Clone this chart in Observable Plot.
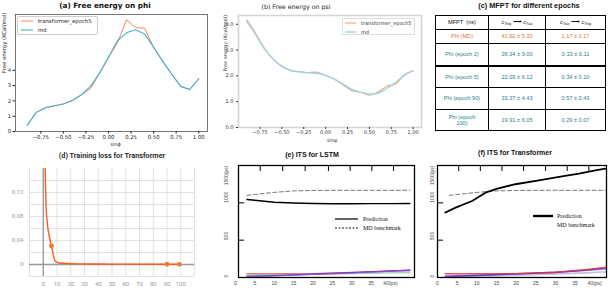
<!DOCTYPE html>
<html><head><meta charset="utf-8">
<script src="https://cdn.jsdelivr.net/npm/d3@7"></script>
<script src="https://cdn.jsdelivr.net/npm/@observablehq/plot@0.6"></script>
<style>
body{margin:0;background:#fff;}
#root{position:relative;width:608px;height:290px;overflow:hidden;font-family:"DejaVu Sans",sans-serif;background:#fff;}
#mfpt{position:absolute;left:435px;top:15px;width:170px;border-collapse:collapse;table-layout:fixed;font-family:"Liberation Sans",sans-serif;font-size:5.6px;}
#mfpt td{border:0.8px solid #000;text-align:center;padding:0;line-height:1.15;}
</style></head>
<body><div id="root"></div>
<script>
// ---------- (a) free energy on phi ----------
const phiX = [-0.9,-0.8,-0.7,-0.6,-0.5,-0.4,-0.3,-0.2,-0.1,0.0,0.1,0.2,0.3,0.4,0.5,0.6,0.7,0.8,0.9,1.0];
const phiMD = [0.40,1.25,1.55,1.68,1.80,2.02,2.40,2.95,3.80,4.85,5.95,6.45,6.65,6.38,5.50,4.60,3.75,2.95,2.75,3.45];
const phiTransformer = [0.40,1.25,1.55,1.68,1.80,2.02,2.40,2.80,3.80,4.85,5.80,7.30,6.80,6.75,5.50,4.60,3.75,2.95,2.75,3.45];
const phiTicksX = [-0.75,-0.5,-0.25,0,0.25,0.5,0.75,1.0];
const phiTicksY = [0,1,2,3,4];

// ---------- (b) free energy on psi ----------
const psiX = [-0.9,-0.8,-0.7,-0.6,-0.5,-0.4,-0.3,-0.2,-0.1,0.0,0.1,0.2,0.3,0.4,0.5,0.6,0.7,0.8,0.9,1.0];
const psiMD = [4.10,3.60,3.05,2.65,2.36,2.22,2.15,2.12,2.10,2.02,1.87,1.68,1.48,1.37,1.30,1.33,1.52,1.75,2.02,2.20];
const psiTransformer = [4.17,3.65,3.08,2.65,2.38,2.20,2.17,2.13,2.14,2.02,1.87,1.65,1.42,1.37,1.25,1.38,1.60,1.68,2.05,2.20];
const psiTicksY = [0,1,2,3,4];

// ---------- (c) MFPT table ----------
const mfptLabels = ["Phi (MD)","Phi (epoch 2)","Phi (epoch 5)","Phi (epoch 90)","Phi (epoch 100)"];
const mfptForward = ["41.92 ± 5.30","26.34 ± 9.00","22.09 ± 6.12","33.37 ± 4.43","19.91 ± 6.05"];
const mfptBackward = ["1.17 ± 0.17","0.33 ± 0.11","0.34 ± 0.10","0.57 ± 0.43","0.29 ± 0.07"];

// ---------- (d) training loss ----------
const lossEpoch = [1,2,3,4,5,6,7,8,9,10,12,15,20,30,50,70,90,100];
const lossValue = [0.20,0.10,0.068,0.052,0.040,0.031,0.019,0.009,0.005,0.0035,0.0025,0.002,0.0015,0.001,0.0007,0.0005,0.0004,0.0003];
const lossMarkEpoch = [6,90,99];
const lossMarkValue = [0.031,0.0004,0.0003];

// ---------- (e) ITS for LSTM ----------
const itsLag = [3,5,10,15,20,25,30,35,40,45];
const mdBenchmark = [1100,1112,1140,1160,1165,1168,1168,1168,1168,1168];
const lstmPrediction = [1045,1035,1008,998,992,988,988,990,990,991];
const minorLagE = [3,10,20,30,40,45];
const lstmRed = [50,50,52,70,90,100];
const lstmBlue = [15,25,45,65,85,95];
const lstmPurple = [10,20,40,60,85,100];
const lstmLight = [25,30,40,55,70,78];
const lstmGreen = [35,38,42,50,60,65];
const topTicksE = [6.4,12.2,18,24,29.6,35.2,40.8];

// ---------- (f) ITS for Transformer ----------
const tfLag = [2,4.6,8.8,12.2,15.2,19.8,25.8,30.9,36,40.2,42.7];
const tfPrediction = [870,935,1025,1136,1190,1249,1302,1347,1391,1436,1458];
const minorLagF = [2,10,20,30,38,43];
const tfRed = [50,50,52,70,110,140];
const tfBlue = [18,30,50,70,100,130];
const tfPurple = [12,25,45,65,95,115];
const tfLight = [8,20,35,50,65,80];
const tfPink = [5,15,30,45,60,75];
const topTicksF = [5.4,10.9,16.4,21.9,27.5,33,38.5];

const itsTicksX = [0,5,10,15,20,25,30,35,40];
const itsTicksY = [0,500,1000,1500];
const itsTickLabelsY = ["0","500","1000","1500(ps)"];

// ================= helpers =================
const root = document.getElementById("root");
function place(node, left, top){
  const d = document.createElement("div");
  d.style.cssText = `position:absolute;left:${left}px;top:${top}px;`;
  d.appendChild(node); root.appendChild(d); return d;
}
function title(text, x, y, css){
  const s = document.createElement("div");
  s.textContent = text;
  s.style.cssText = `position:absolute;left:${x}px;top:${y}px;transform:translate(-50%,-50%);white-space:nowrap;${css}`;
  root.appendChild(s);
}
function textAt(text, x, y, css){
  const s = document.createElement("div");
  s.innerHTML = text;
  s.style.cssText = `position:absolute;left:${x}px;top:${y}px;transform:translate(0,-50%);white-space:nowrap;${css}`;
  root.appendChild(s);
}
function swatch(x1, x2, y, stroke, sw, dash){
  const ns = "http://www.w3.org/2000/svg";
  const svg = document.createElementNS(ns,"svg");
  svg.setAttribute("width", x2-x1); svg.setAttribute("height", 6);
  svg.style.cssText = `position:absolute;left:${x1}px;top:${y-3}px;overflow:visible`;
  const l = document.createElementNS(ns,"line");
  l.setAttribute("x1",0); l.setAttribute("x2",x2-x1); l.setAttribute("y1",3); l.setAttribute("y2",3);
  l.setAttribute("stroke",stroke); l.setAttribute("stroke-width",sw);
  if (dash) l.setAttribute("stroke-dasharray",dash);
  svg.appendChild(l); root.appendChild(svg);
}
function box(x, y, w, h, css){
  const b = document.createElement("div");
  b.style.cssText = `position:absolute;left:${x}px;top:${y}px;width:${w}px;height:${h}px;box-sizing:border-box;${css}`;
  root.appendChild(b);
}
const baseStyle = (font, size, color) => ({fontFamily:font, fontSize:size, background:"transparent", overflow:"visible", color});

// ================= (a) =================
const aData = phiX.map((x,i)=>({x, md: phiMD[i], tr: phiTransformer[i]}));
place(Plot.plot({
  width:210, height:150, marginLeft:15, marginTop:14, marginRight:3, marginBottom:19,
  x:{domain:[-1.03,1.097]}, y:{domain:[0,7.65]},
  style: baseStyle("DejaVu Sans","5.3px","#222"),
  marks:[
    Plot.frame({stroke:"#555", strokeWidth:0.8}),
    Plot.axisX({ticks:phiTicksX, tickFormat:d3.format(".2f"), tickSize:2.5, tickPadding:1.2, label:null}),
    Plot.axisY({ticks:phiTicksY, tickSize:2.5, tickPadding:2, label:null}),
    Plot.text(["Free energy (KCal/mol)"], {text:d=>d, frameAnchor:"left", rotate:-90, dx:-11, fontSize:5.3}),
    Plot.text(["sinϕ"], {text:d=>d, frameAnchor:"bottom", dy:14, dx:4, fontSize:5}),
    Plot.line(aData, {x:"x", y:"tr", stroke:"#f4845f", strokeWidth:1}),
    Plot.line(aData, {x:"x", y:"md", stroke:"#45b3ca", strokeWidth:1.1})
  ]
}), 0, 0);
title("(a) Free energy on phi", 105, 5, "font:bold 7.3px 'DejaVu Sans';color:#111");
box(17,16,81,19,"border:0.7px solid #ccc;border-radius:2px;background:rgba(255,255,255,0.85)");
swatch(21,33,21,"#f4845f",1);
textAt("transformer_epoch5",38,21,"font:5.3px 'DejaVu Sans';color:#222");
swatch(21,33,30,"#45b3ca",1.1);
textAt("md",38,30,"font:5.3px 'DejaVu Sans';color:#222");

// ================= (b) =================
const bData = psiX.map((x,i)=>({x, md: psiMD[i], tr: psiTransformer[i]}));
place(Plot.plot({
  width:222, height:150, marginLeft:38, marginTop:15, marginRight:1, marginBottom:23,
  x:{domain:[-0.995,1.095]}, y:{domain:[0,4.34]},
  style: baseStyle("DejaVu Sans","5px","#333"),
  marks:[
    Plot.frame({stroke:"#d5d5d5", strokeWidth:1.6}),
    Plot.axisX({ticks:phiTicksX, tickFormat:d3.format(".2f"), tickSize:2, tickPadding:1, label:null}),
    Plot.axisY({ticks:psiTicksY, tickSize:2, tickPadding:3, label:null}),
    Plot.text(["Free energy (Kcal/mol)"], {text:d=>d, frameAnchor:"left", rotate:-90, dx:-13, fontSize:5}),
    Plot.text(["sinψ"], {text:d=>d, frameAnchor:"bottom", dy:14, dx:2, fontSize:5}),
    Plot.line(bData, {x:"x", y:"tr", stroke:"#f3a07c", strokeWidth:1.1, curve:"catmull-rom"}),
    Plot.line(bData, {x:"x", y:"md", stroke:"#9fd5e0", strokeWidth:1.4, curve:"catmull-rom"})
  ]
}), 200, 0);
title("(b) Free energy on psi", 296, 5.5, "font:6.3px 'DejaVu Sans';color:#222");
box(342,18,73,17,"border:0.7px solid #ddd;background:rgba(255,255,255,0.9)");
swatch(345,356,22.7,"#f3a07c",1.1);
textAt("transformer_epoch5",361,22.7,"font:5px 'DejaVu Sans';color:#333");
swatch(345,356,31.5,"#9fd5e0",1.4);
textAt("md",361,31.5,"font:5px 'DejaVu Sans';color:#333");

// ================= (c) =================
title("(c) MFPT for different epochs", 529, 5, "font:bold 7.3px 'Liberation Sans';color:#111");
const table = document.createElement("table");
table.id = "mfpt";
const colW = [53,57,60];
const cg = document.createElement("colgroup");
colW.forEach(w=>{const c=document.createElement("col"); c.style.width=w+"px"; cg.appendChild(c);});
table.appendChild(cg);
const rowH = [14,14,22,22,22,21];
function addRow(cells, h, color, extraCss){
  const tr = document.createElement("tr");
  tr.style.height = h+"px";
  cells.forEach(c=>{const td=document.createElement("td"); td.innerHTML=c; td.style.color=color; if(extraCss) td.style.cssText+=extraCss; tr.appendChild(td);});
  table.appendChild(tr);
}
addRow(["MFPT&nbsp;&nbsp;(ns)","<i>c</i><sub>7eq</sub> ⟶ <i>c</i><sub>7ax</sub>","<i>c</i><sub>7ax</sub> ⟶ <i>c</i><sub>7eq</sub>"], rowH[0], "#111");
mfptLabels.forEach((lab,i)=>{
  const color = i===0 ? "#e07a2e" : "#2b7f8e";
  const label = lab === "Phi (epoch 100)" ? "Phi (epoch<br>100)" : lab;
  addRow([label, mfptForward[i], mfptBackward[i]], rowH[i+1], color, i===2 ? "border-top:2px double #000;" : "");
});
root.appendChild(table);
table.querySelectorAll("sub").forEach(s=>{s.style.fontSize="4px"; s.style.verticalAlign="-1px";});

// ================= (d) =================
const dData = lossEpoch.map((e,i)=>({e, v: lossValue[i]}));
const dMarks = lossMarkEpoch.map((e,i)=>({e, v: lossMarkValue[i]}));
place(Plot.plot({
  width:210, height:150, marginLeft:29, marginTop:28, marginRight:16, marginBottom:14,
  x:{domain:[-10,110]}, y:{domain:[-0.02,0.16]},
  style: baseStyle("Roboto","6px","#999"),
  marks:[
    Plot.gridX({ticks:d3.range(-10,111,10), stroke:"#dcdcdc", strokeOpacity:1, strokeWidth:0.8}),
    Plot.gridY({ticks:d3.range(-2,15,2).map(d=>d/100), stroke:"#dcdcdc", strokeOpacity:1, strokeWidth:0.8}),
    Plot.ruleX([0], {stroke:"#999", strokeWidth:1.3}),
    Plot.ruleY([0], {stroke:"#999", strokeWidth:1.3}),
    Plot.axisX({ticks:d3.range(0,101,10), tickSize:0, tickPadding:5.5, label:null}),
    Plot.axisY({ticks:[0,0.04,0.08,0.12], tickFormat:d=>d===0?"0":d3.format(".2f")(d), tickSize:0, tickPadding:6, label:null}),
    Plot.line(dData, {x:"e", y:"v", stroke:"#ff5a1f", strokeWidth:1.4, curve:"monotone-x", clip:true}),
    Plot.dot(dMarks, {x:"e", y:"v", r:2.4, fill:"#f47b30", stroke:"none"})
  ]
}), 0, 140);
title("(d) Training loss for Transformer", 112, 155, "font:600 7.3px Roboto;color:#222");

// ================= (e) =================
function minorTable(lags, series){
  const out = [];
  series.forEach(([name, vals])=>vals.forEach((v,i)=>out.push({lag:lags[i], v, s:name})));
  return out;
}
const eMinor = minorTable(minorLagE, [["light",lstmLight],["green",lstmGreen],["red",lstmRed],["blue",lstmBlue],["purple",lstmPurple]]);
const minorColors = {light:"#b9c4ea", green:"#8fcf9a", red:"#ee3030", blue:"#3a3ad8", purple:"#9a4ad0", pink:"#e0a8d8"};
const eMain = itsLag.map((lag,i)=>({lag, md: mdBenchmark[i], pred: lstmPrediction[i]}));
const yLab = itsTicksY.map((v,i)=>({v, t: itsTickLabelsY[i]}));
place(Plot.plot({
  width:210, height:150, marginLeft:33, marginTop:25, marginRight:1, marginBottom:13,
  x:{domain:[0.8,46.2]}, y:{domain:[0,1500], axis:null},
  color:{domain:Object.keys(minorColors), range:Object.values(minorColors)},
  style: baseStyle("Liberation Sans","5px","#444"),
  marks:[
    Plot.line(eMinor, {x:"lag", y:"v", z:"s", stroke:"s", strokeWidth:1.2, strokeOpacity:0.85}),
    Plot.line(eMain, {x:"lag", y:"md", stroke:"#666", strokeWidth:0.9, strokeDasharray:"4,2.5"}),
    Plot.line(eMain, {x:"lag", y:"pred", stroke:"#000", strokeWidth:1.4}),
    Plot.frame({stroke:"#000", strokeWidth:1.3}),
    Plot.tickX(topTicksE, {x:d=>d, insetBottom:106, stroke:"#000", strokeWidth:1}),
    Plot.tickY([500,1000], {y:d=>d, insetRight:170, stroke:"#000", strokeWidth:1}),
    Plot.axisX({ticks:itsTicksX, tickFormat:d=>d===40?"40(ps)":String(d), tickSize:0, tickPadding:4, label:null}),
    Plot.text(yLab.slice(0,3), {y:"v", text:"t", frameAnchor:"left", rotate:-90, dx:-12, fontSize:5}),
    Plot.text(yLab.slice(3), {y:"v", text:"t", frameAnchor:"left", rotate:-90, dx:-12, fontSize:5, textAnchor:"end"})
  ]
}), 205, 140);
title("(e) ITS for LSTM", 312, 154, "font:bold 7px 'Liberation Sans';color:#111");
swatch(335,358,219,"#000",1.2);
textAt("Prediction",363,219,"font:6px 'Liberation Serif';color:#111");
swatch(335,358,228.3,"#000",0.9,"2,1.5");
textAt("MD benchmark",363,228.3,"font:6px 'Liberation Serif';color:#111");

// ================= (f) =================
const fMinor = minorTable(minorLagF, [["pink",tfPink],["light",tfLight],["purple",tfPurple],["blue",tfBlue],["red",tfRed]]);
const fPred = tfLag.map((lag,i)=>({lag, pred: tfPrediction[i]}));
place(Plot.plot({
  width:203, height:150, marginLeft:32, marginTop:25, marginRight:2, marginBottom:13,
  x:{domain:[0,43]}, y:{domain:[0,1500], axis:null},
  color:{domain:Object.keys(minorColors), range:Object.values(minorColors)},
  style: baseStyle("Liberation Sans","5px","#444"),
  marks:[
    Plot.line(fMinor, {x:"lag", y:"v", z:"s", stroke:"s", strokeWidth:1.3, strokeOpacity:0.85}),
    Plot.line(eMain, {x:"lag", y:"md", stroke:"#666", strokeWidth:0.9, strokeDasharray:"4,2.5", clip:true}),
    Plot.line(fPred, {x:"lag", y:"pred", stroke:"#000", strokeWidth:1.8}),
    Plot.frame({stroke:"#000", strokeWidth:1.3}),
    Plot.tickX(topTicksF, {x:d=>d, insetBottom:106, stroke:"#000", strokeWidth:1}),
    Plot.tickY([500,1000], {y:d=>d, insetRight:163, stroke:"#000", strokeWidth:1}),
    Plot.axisX({ticks:itsTicksX, tickFormat:d=>d===40?"40(ps)":String(d), tickSize:0, tickPadding:4, label:null}),
    Plot.text(yLab.slice(0,3), {y:"v", text:"t", frameAnchor:"left", rotate:-90, dx:-5, fontSize:5}),
    Plot.text(yLab.slice(3), {y:"v", text:"t", frameAnchor:"left", rotate:-90, dx:-5, fontSize:5, textAnchor:"end"})
  ]
}), 405, 140);
title("(f) ITS for Transformer", 515, 151.5, "font:bold 7px 'Liberation Sans';color:#111");
swatch(533,553,216,"#000",2.4);
textAt("Prediction",557,216,"font:6px 'Liberation Serif';color:#111");
textAt("MD benchmark",557,224.5,"font:6px 'Liberation Serif';color:#111");
</script>
</body></html>
